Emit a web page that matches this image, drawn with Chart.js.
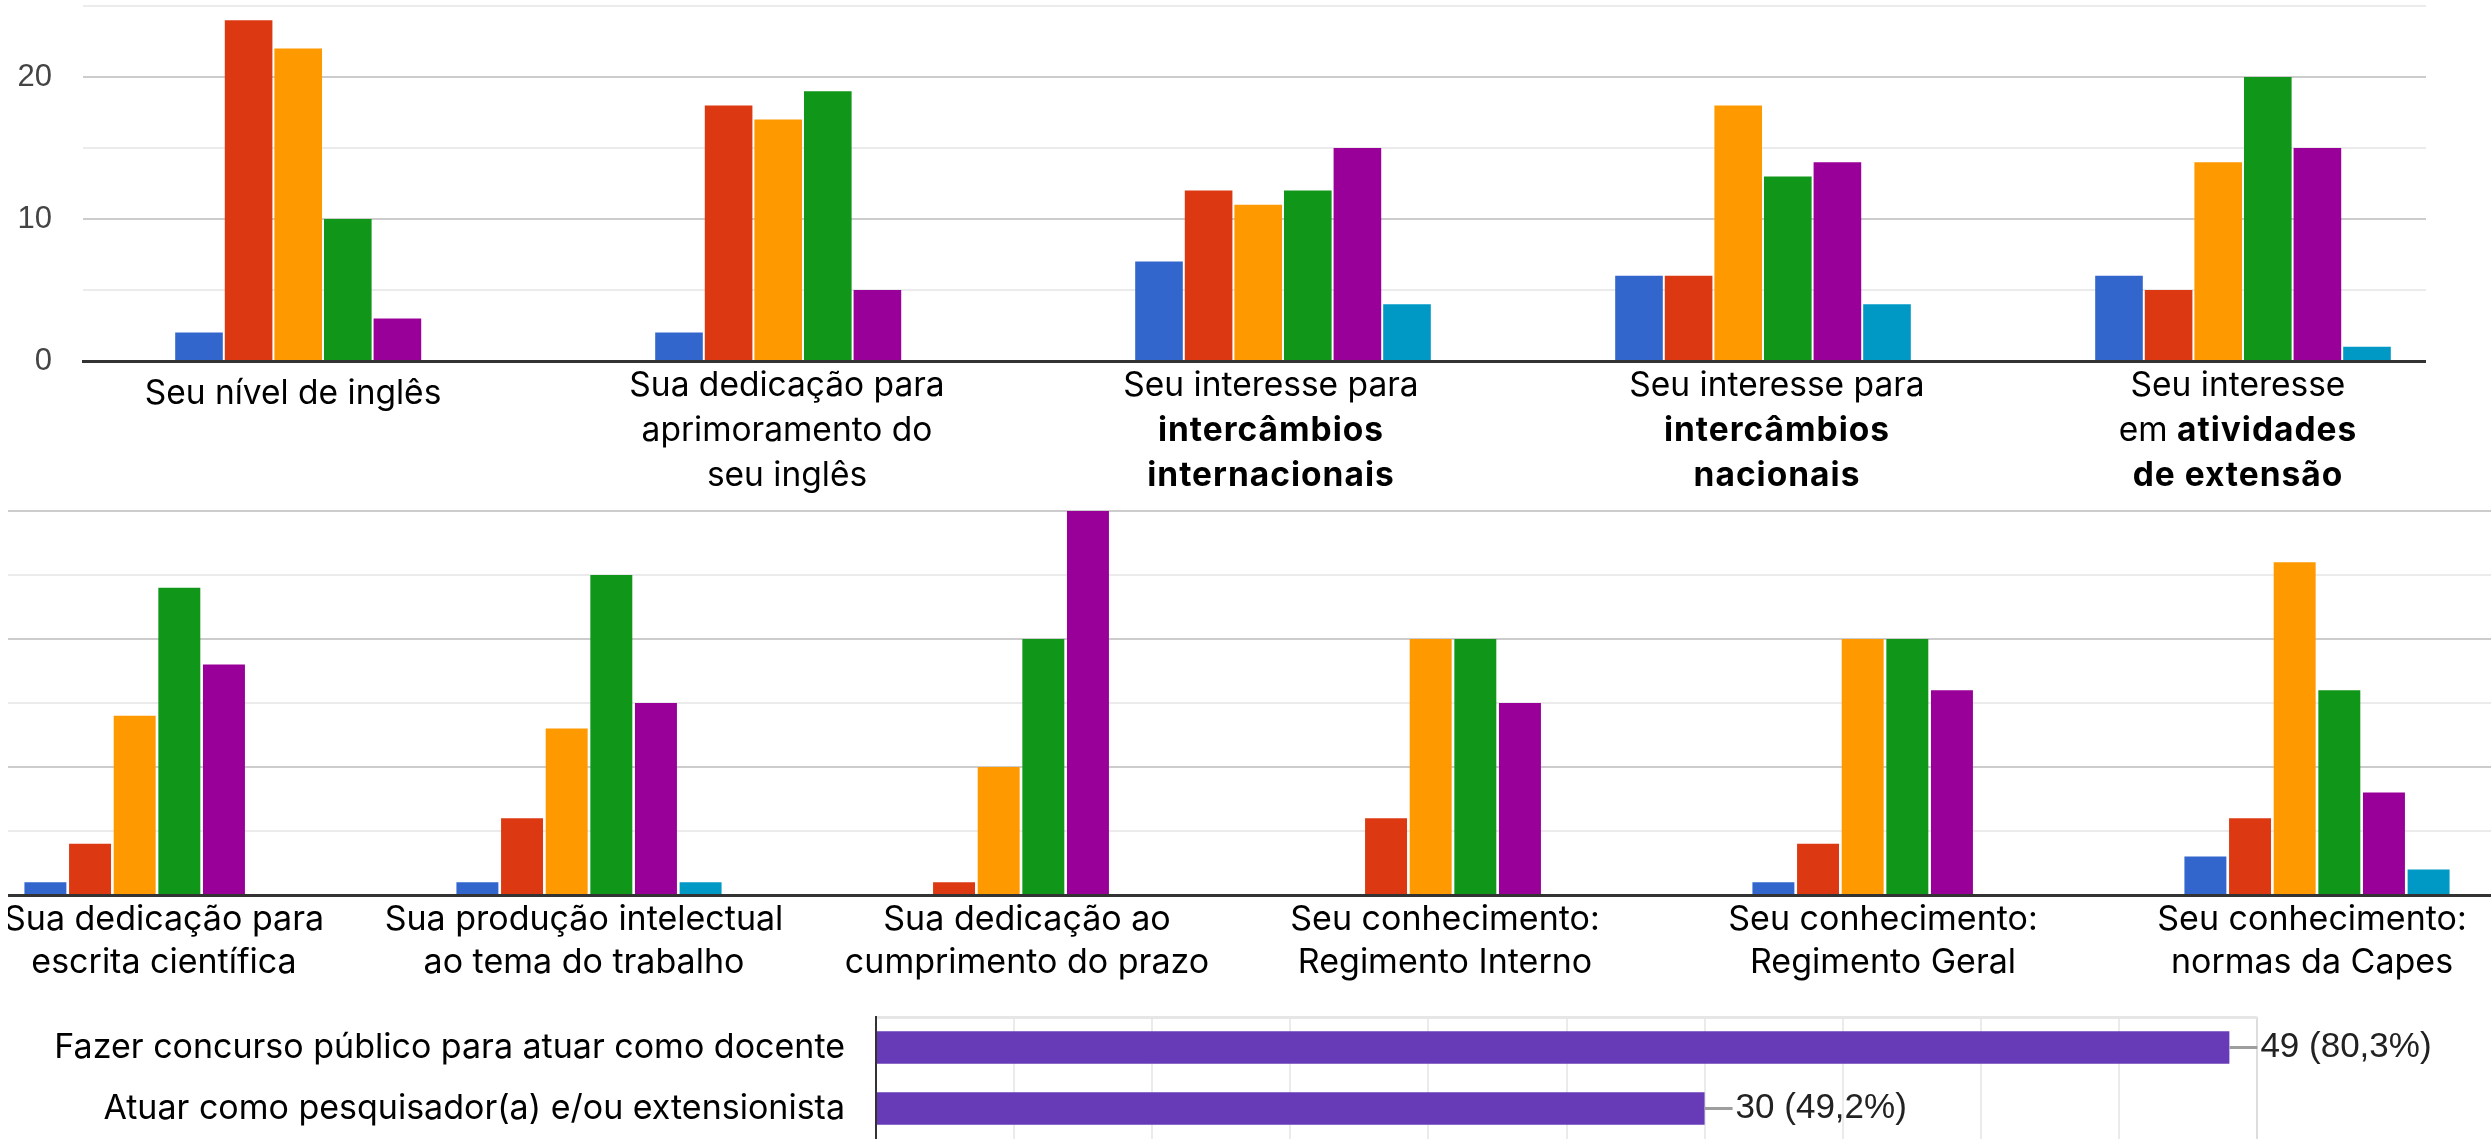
<!DOCTYPE html>
<html>
<head>
<meta charset="utf-8">
<script src="https://cdn.jsdelivr.net/npm/chart.js@4.4.0/dist/chart.umd.min.js"></script>
<style>
  html, body { margin:0; padding:0; background:#fff; width:2491px; height:1139px; overflow:hidden; position:relative; }
  .box { position:absolute; overflow:hidden; }
  canvas { position:absolute; display:block; }
</style>
</head>
<body>
<div class="box" id="topBox" style="left:0;top:0;width:2426px;height:500px;">
  <canvas id="topChart" width="2491" height="500" style="left:0;top:0;"></canvas>
</div>
<div class="box" id="midBox" style="left:8px;top:500px;width:2483px;height:500px;">
  <canvas id="midChart" width="2592" height="500" style="left:-67px;top:0;"></canvas>
</div>
<div class="box" id="botBox" style="left:0;top:1000px;width:2491px;height:139px;">
  <canvas id="botChart" width="2491" height="139" style="left:0;top:0;"></canvas>
</div>
<script>
// ---------- DATA ----------
const seriesNames = ["1", "2", "3", "4", "5", "6"];
const seriesColors = ["#3366cc", "#dc3912", "#ff9900", "#109618", "#990099", "#0099c6"];

const topLabels = [
  ["Seu nível de inglês"],
  ["Sua dedicação para", "aprimoramento do", "seu inglês"],
  ["Seu interesse para", "**intercâmbios**", "**internacionais**"],
  ["Seu interesse para", "**intercâmbios**", "**nacionais**"],
  ["Seu interesse", "em **atividades**", "**de extensão**"]
];
const topBlue   = [2, 2, 7, 6, 6];
const topRed    = [24, 18, 12, 6, 5];
const topOrange = [22, 17, 11, 18, 14];
const topGreen  = [10, 19, 12, 13, 20];
const topPurple = [3, 5, 15, 14, 15];
const topTeal   = [0, 0, 4, 4, 1];

const midLabels = [
  ["Sua dedicação para", "escrita científica"],
  ["Sua produção intelectual", "ao tema do trabalho"],
  ["Sua dedicação ao", "cumprimento do prazo"],
  ["Seu conhecimento:", "Regimento Interno"],
  ["Seu conhecimento:", "Regimento Geral"],
  ["Seu conhecimento:", "normas da Capes"]
];
const midBlue   = [1, 1, 0, 0, 1, 3];
const midRed    = [4, 6, 1, 6, 4, 6];
const midOrange = [14, 13, 10, 20, 20, 26];
const midGreen  = [24, 25, 20, 20, 20, 16];
const midPurple = [18, 15, 30, 15, 16, 8];
const midTeal   = [0, 1, 0, 0, 0, 2];

const botLabels = ["Fazer concurso público para atuar como docente", "Atuar como pesquisador(a) e/ou extensionista"];
const botValues = [49, 30];
const botPercents = ["80,3%", "49,2%"];

// ---------- LAYOUT (label nudges, px) ----------
const LAYOUT = {
  topShift: [-30, -16, -12, 14, -5],
  midShift: [7, -5, 6, -8, -2, -5]
};

// ---------- HELPERS ----------
const LABEL_FONT = "Inter";
function setFont(ctx, bold, size) {
  ctx.font = (bold ? "bold " : "") + size + "px " + LABEL_FONT;
  if ("letterSpacing" in ctx) ctx.letterSpacing = bold ? "1px" : "0px";
}
function drawRichLine(ctx, text, cx, cy, size) {
  const parts = text.split("**");
  const segs = parts.map((t, i) => ({ t, bold: i % 2 === 1 })).filter(s => s.t.length);
  let total = 0;
  segs.forEach(s => {
    setFont(ctx, s.bold, size);
    s.w = ctx.measureText(s.t).width;
    total += s.w;
  });
  let x = cx - total / 2;
  ctx.textAlign = "left";
  ctx.textBaseline = "middle";
  ctx.fillStyle = "#000";
  segs.forEach(s => {
    setFont(ctx, s.bold, size);
    ctx.fillText(s.t, x, cy);
    x += s.w;
  });
  if ("letterSpacing" in ctx) ctx.letterSpacing = "0px";
}
function catLabelPlugin(labels, firstY, lineGap, size, singleShift, shifts) {
  return {
    id: "catLabels",
    afterDraw(chart) {
      const ctx = chart.ctx;
      const xs = chart.scales.x;
      ctx.save();
      labels.forEach((lines, i) => {
        const cx = xs.getPixelForValue(i) + (shifts[i] || 0);
        const y0 = firstY + (lines.length === 1 ? singleShift : 0);
        lines.forEach((line, j) => drawRichLine(ctx, line, cx, y0 + j * lineGap, size));
      });
      ctx.restore();
    }
  };
}
function makeDatasets(arrs, barPct) {
  return arrs.map((a, i) => ({
    label: seriesNames[i],
    data: a,
    backgroundColor: seriesColors[i],
    borderWidth: 0,
    barPercentage: barPct,
    categoryPercentage: 0.62
  }));
}
const gridColor = c => (c.tick && c.tick.value % 10 === 0) ? "#cccccc" : "#ebebeb";

// ---------- TOP CHART ----------
new Chart(document.getElementById("topChart"), {
  type: "bar",
  data: {
    labels: topLabels.map(l => l.join(" ")),
    datasets: makeDatasets([topBlue, topRed, topOrange, topGreen, topPurple, topTeal], 0.96)
  },
  options: {
    responsive: false, animation: false, devicePixelRatio: 1,
    layout: { padding: { top: 6, bottom: 139, left: 0, right: 8 } },
    plugins: { legend: { display: false }, tooltip: { enabled: false } },
    scales: {
      x: {
        ticks: { display: false },
        grid: { display: false, drawTicks: false },
        border: { display: true, color: "#333333", width: 3 },
        afterFit: s => { s.height = 0; }
      },
      y: {
        min: 0, max: 25,
        ticks: {
          stepSize: 5, padding: 31, color: "#444444",
          font: { family: "Liberation Sans", size: 31 },
          callback: v => (v % 10 === 0 ? String(v) : "")
        },
        grid: { color: gridColor, lineWidth: 2, drawTicks: false },
        border: { display: false },
        afterFit: s => { s.width = 83; s.paddingTop = 0; s.paddingBottom = 0; }
      }
    }
  },
  plugins: [catLabelPlugin(topLabels, 386, 45, 33.5, 8, LAYOUT.topShift)]
});

// ---------- MIDDLE CHART ----------
new Chart(document.getElementById("midChart"), {
  type: "bar",
  data: {
    labels: midLabels.map(l => l.join(" ")),
    datasets: makeDatasets([midBlue, midRed, midOrange, midGreen, midPurple, midTeal], 0.94)
  },
  options: {
    responsive: false, animation: false, devicePixelRatio: 1,
    layout: { padding: { top: 11, bottom: 105, left: 0, right: 0 } },
    plugins: { legend: { display: false }, tooltip: { enabled: false } },
    scales: {
      x: {
        ticks: { display: false },
        grid: { display: false, drawTicks: false },
        border: { display: true, color: "#333333", width: 3 },
        afterFit: s => { s.height = 0; }
      },
      y: {
        min: 0, max: 30,
        ticks: { display: false, stepSize: 5 },
        grid: { color: gridColor, lineWidth: 2, drawTicks: false },
        border: { display: false },
        afterFit: s => { s.width = 0; s.paddingTop = 0; s.paddingBottom = 0; }
      }
    }
  },
  plugins: [catLabelPlugin(midLabels, 420, 43, 34, 0, LAYOUT.midShift)]
});

// ---------- BOTTOM CHART ----------
const valueLabelPlugin = {
  id: "valueLabels",
  afterDraw(chart) {
    const ctx = chart.ctx;
    const meta = chart.getDatasetMeta(0);
    ctx.save();
    meta.data.forEach((bar, i) => {
      ctx.strokeStyle = "#9e9e9e";
      ctx.lineWidth = 3;
      ctx.beginPath();
      ctx.moveTo(bar.x, bar.y);
      ctx.lineTo(bar.x + 28, bar.y);
      ctx.stroke();
      ctx.fillStyle = "#222222";
      ctx.font = '35px "Liberation Sans"';
      ctx.textAlign = "left";
      ctx.textBaseline = "middle";
      ctx.fillText(botValues[i] + " (" + botPercents[i] + ")", bar.x + 31, bar.y);
    });
    ctx.restore();
  }
};
new Chart(document.getElementById("botChart"), {
  type: "bar",
  data: {
    labels: botLabels,
    datasets: [{
      label: "Respostas",
      data: botValues,
      backgroundColor: "#673ab7",
      borderWidth: 0,
      barPercentage: 0.53,
      categoryPercentage: 1
    }]
  },
  options: {
    indexAxis: "y",
    responsive: false, animation: false, devicePixelRatio: 1,
    layout: { padding: { top: 17, bottom: 0, left: 0, right: 234 } },
    plugins: { legend: { display: false }, tooltip: { enabled: false } },
    scales: {
      x: {
        min: 0, max: 50,
        ticks: { display: false, stepSize: 5 },
        grid: { color: c => (c.tick && c.tick.value === 50 ? "#dddddd" : "#ebebeb"), lineWidth: 2, drawTicks: false },
        border: { display: false },
        afterFit: s => { s.height = 0; s.paddingLeft = 0; s.paddingRight = 0; }
      },
      y: {
        ticks: { color: "#000000", padding: 31, font: { family: "Inter", size: 34 } },
        grid: { color: c => (c.index === 0 ? "#e6e6e6" : "rgba(0,0,0,0)"), lineWidth: 3, drawTicks: false },
        border: { display: true, color: "#333333", width: 2 },
        afterFit: s => { s.width = 876; s.paddingTop = 0; s.paddingBottom = 0; }
      }
    }
  },
  plugins: [valueLabelPlugin]
});
</script>
</body>
</html>
